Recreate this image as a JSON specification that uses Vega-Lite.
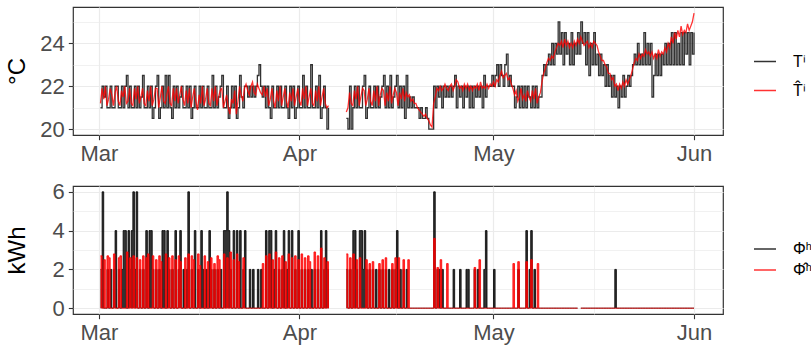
{
"$schema":"https://vega.github.io/schema/vega-lite/v6.json",
"padding":{"left":4,"top":6,"right":0,"bottom":0},
"data":{"format":{"parse":{"d":"utc:'%m%d%H'"}},"values":[
{"d":"030106","o":21,"p":21.2,"h":2,"q":2.7},{"d":"030112","o":22,"p":21.9,"h":6,"q":0},{"d":"030118","o":21.5,"p":21.4,"h":0,"q":2.5},
{"d":"030200","o":22,"p":22,"h":0,"q":0},{"d":"030206","o":21,"p":21.1,"h":2,"q":2.7},{"d":"030212","o":21,"p":21.4,"h":0,"q":2.6},{"d":"030218","o":22,"p":21.9,"h":2,"q":0},
{"d":"030300","o":21,"p":21.6,"h":0,"q":0},{"d":"030306","o":21,"p":21.1,"h":2,"q":2.8},{"d":"030312","o":22,"p":21.7,"h":4,"q":0},{"d":"030318","o":22,"p":22,"h":0,"q":0},
{"d":"030400","o":21,"p":21.3,"h":2,"q":2.6},{"d":"030406","o":21,"p":21.1,"h":0,"q":2.7},{"d":"030412","o":22,"p":21.8,"h":2,"q":0},{"d":"030418","o":21,"p":21.5,"h":4,"q":0},
{"d":"030500","o":22,"p":22,"h":4,"q":0},{"d":"030506","o":22.5,"p":21.2,"h":0,"q":2.9},{"d":"030512","o":21,"p":21.3,"h":4,"q":0},{"d":"030518","o":22,"p":21.9,"h":2,"q":2.6},
{"d":"030600","o":21,"p":21.2,"h":4,"q":0},{"d":"030606","o":21,"p":21.1,"h":6,"q":2.7},{"d":"030612","o":22,"p":21.9,"h":2,"q":0},{"d":"030618","o":21,"p":21.4,"h":6,"q":2.6},
{"d":"030700","o":22,"p":22,"h":0,"q":0},{"d":"030706","o":21,"p":21.2,"h":2,"q":2.5},{"d":"030712","o":21.5,"p":21.5,"h":0,"q":0},{"d":"030718","o":22.5,"p":21.9,"h":2,"q":2.7},
{"d":"030800","o":21,"p":21.2,"h":0,"q":0},{"d":"030806","o":21,"p":21.1,"h":4,"q":2.6},{"d":"030812","o":22,"p":21.8,"h":0,"q":2.8},{"d":"030818","o":21,"p":21.3,"h":4,"q":0},
{"d":"030900","o":22,"p":22,"h":4,"q":0},{"d":"030906","o":20.5,"p":21.1,"h":2,"q":2.7},{"d":"030912","o":21,"p":21.4,"h":0,"q":0},{"d":"030918","o":22,"p":21.9,"h":2,"q":2.5},
{"d":"031000","o":22.5,"p":21.9,"h":0,"q":0},{"d":"031006","o":20.5,"p":21,"h":2,"q":2.7},{"d":"031012","o":21,"p":21.5,"h":0,"q":2.4},{"d":"031018","o":22,"p":22,"h":4,"q":0},
{"d":"031100","o":21,"p":21.3,"h":4,"q":0},{"d":"031106","o":22.5,"p":21.2,"h":0,"q":2.8},{"d":"031112","o":21,"p":21.6,"h":4,"q":0},{"d":"031118","o":22.5,"p":22,"h":2,"q":2.6},
{"d":"031200","o":21,"p":21.2,"h":0,"q":0},{"d":"031206","o":20.5,"p":21.1,"h":2,"q":2.7},{"d":"031212","o":22,"p":21.9,"h":0,"q":0},{"d":"031218","o":21,"p":21.3,"h":4,"q":2.5},
{"d":"031300","o":22,"p":21.9,"h":0,"q":0},{"d":"031306","o":21,"p":21.2,"h":2,"q":2.7},{"d":"031312","o":21.5,"p":21.6,"h":4,"q":2.4},{"d":"031318","o":22,"p":22,"h":0,"q":0},
{"d":"031400","o":21,"p":21.4,"h":2,"q":0},{"d":"031406","o":21,"p":21.1,"h":0,"q":2.6},{"d":"031412","o":22,"p":21.8,"h":2,"q":0},{"d":"031418","o":21,"p":21.2,"h":6,"q":2.8},
{"d":"031500","o":22,"p":21.9,"h":0,"q":0},{"d":"031506","o":20.5,"p":21,"h":2,"q":2.7},{"d":"031512","o":21,"p":21.5,"h":0,"q":2.5},{"d":"031518","o":22,"p":21.9,"h":4,"q":0},
{"d":"031600","o":21,"p":21.3,"h":0,"q":0},{"d":"031606","o":21,"p":20.9,"h":2,"q":2.8},{"d":"031612","o":22,"p":21.6,"h":0,"q":2.2},{"d":"031618","o":21,"p":21.2,"h":4,"q":0},
{"d":"031700","o":22,"p":22,"h":2,"q":0},{"d":"031706","o":21,"p":21.1,"h":0,"q":2.7},{"d":"031712","o":21,"p":21.4,"h":2,"q":0},{"d":"031718","o":22,"p":21.9,"h":0,"q":2.4},
{"d":"031800","o":21,"p":21.2,"h":4,"q":0},{"d":"031806","o":21,"p":21.1,"h":2,"q":2.6},{"d":"031812","o":22.5,"p":21.9,"h":0,"q":0},{"d":"031818","o":21,"p":21.3,"h":2,"q":2.3},
{"d":"031900","o":22,"p":22,"h":0,"q":0},{"d":"031906","o":21,"p":21.1,"h":2,"q":2.7},{"d":"031912","o":21.5,"p":21.5,"h":0,"q":2.5},{"d":"031918","o":22,"p":21.8,"h":2,"q":0},
{"d":"032000","o":22.5,"p":21.9,"h":0,"q":0},{"d":"032006","o":21,"p":21,"h":4,"q":2.8},{"d":"032012","o":21,"p":21.3,"h":4,"q":0},{"d":"032018","o":22,"p":21.6,"h":6,"q":2.6},
{"d":"032100","o":20.5,"p":21,"h":4,"q":0},{"d":"032106","o":21,"p":20.7,"h":2,"q":2.9},{"d":"032112","o":22,"p":21.4,"h":0,"q":0},{"d":"032118","o":21,"p":21.2,"h":4,"q":2.5},
{"d":"032200","o":22,"p":21.8,"h":0,"q":0},{"d":"032206","o":20.5,"p":20.7,"h":4,"q":2.8},{"d":"032212","o":21,"p":21.3,"h":0,"q":2.4},{"d":"032218","o":22.5,"p":22,"h":4,"q":0},
{"d":"032300","o":21.5,"p":21.6,"h":0,"q":0},{"d":"032306","o":21,"p":21.3,"h":2,"q":2.6},{"d":"032312","o":22,"p":21.9,"h":4,"q":0},{"d":"032318","o":22,"p":22.1,"h":0,"q":0},
{"d":"032400","o":21.5,"p":21.8,"h":0,"q":0},{"d":"032406","o":22,"p":21.6,"h":2,"q":0},{"d":"032412","o":21.5,"p":22,"h":0,"q":0},{"d":"032418","o":22,"p":22.2,"h":2,"q":0},
{"d":"032500","o":21.5,"p":21.7,"h":0,"q":0},{"d":"032506","o":22,"p":21.6,"h":0,"q":0},{"d":"032512","o":22.5,"p":22.1,"h":2,"q":0},{"d":"032518","o":23,"p":21.9,"h":0,"q":0},
{"d":"032600","o":22,"p":21.7,"h":2,"q":0},{"d":"032606","o":21.5,"p":21.6,"h":0,"q":2.3},{"d":"032612","o":22,"p":22,"h":0,"q":0},{"d":"032618","o":21,"p":21.5,"h":4,"q":2.7},
{"d":"032700","o":22,"p":21.9,"h":0,"q":0},{"d":"032706","o":21,"p":21.1,"h":4,"q":2.8},{"d":"032712","o":20.5,"p":21.4,"h":4,"q":0},{"d":"032718","o":22,"p":21.9,"h":0,"q":2.5},
{"d":"032800","o":21,"p":21.3,"h":2,"q":0},{"d":"032806","o":21,"p":21,"h":4,"q":2.9},{"d":"032812","o":22,"p":21.8,"h":0,"q":0},{"d":"032818","o":21,"p":21.3,"h":2,"q":2.6},
{"d":"032900","o":22,"p":22,"h":0,"q":0},{"d":"032906","o":21,"p":21.1,"h":2,"q":2.7},{"d":"032912","o":21,"p":21.5,"h":4,"q":0},{"d":"032918","o":22,"p":21.9,"h":0,"q":2.4},
{"d":"033000","o":21,"p":21.3,"h":2,"q":0},{"d":"033006","o":20.5,"p":21,"h":4,"q":2.8},{"d":"033012","o":22,"p":21.7,"h":0,"q":0},{"d":"033018","o":21,"p":21.3,"h":4,"q":2.6},
{"d":"033100","o":22,"p":21.9,"h":0,"q":0},{"d":"033106","o":20.5,"p":21.1,"h":2,"q":2.7},{"d":"033112","o":21,"p":21.5,"h":0,"q":0},{"d":"033118","o":22,"p":21.9,"h":4,"q":2.5},
{"d":"040100","o":21,"p":21.3,"h":0,"q":0},{"d":"040106","o":21,"p":21.1,"h":2,"q":2.8},{"d":"040112","o":22.5,"p":21.9,"h":0,"q":0},{"d":"040118","o":21,"p":21.4,"h":2,"q":2.6},
{"d":"040200","o":22,"p":22,"h":0,"q":0},{"d":"040206","o":21,"p":21.1,"h":2,"q":2.7},{"d":"040212","o":21,"p":21.5,"h":0,"q":2.4},{"d":"040218","o":23,"p":21.9,"h":2,"q":0},
{"d":"040300","o":21,"p":21.2,"h":0,"q":0},{"d":"040306","o":21,"p":21.1,"h":2,"q":2.9},{"d":"040312","o":22,"p":21.8,"h":0,"q":0},{"d":"040318","o":21,"p":21.3,"h":2,"q":2.7},
{"d":"040400","o":22.5,"p":22,"h":0,"q":0},{"d":"040406","o":20.5,"p":21.1,"h":4,"q":3.1},{"d":"040412","o":21,"p":21.5,"h":0,"q":0},{"d":"040418","o":22,"p":21.9,"h":2,"q":2.6},
{"d":"040500","o":21,"p":21.2,"h":4,"q":0},{"d":"040506","o":20,"p":21,"h":2,"q":2.4},{"d":"040512","o":21,"p":21.1,"h":0,"q":0},
{"d":"040600","o":null,"p":null,"h":null,"q":null},
{"d":"040806","o":20.5,"p":20.8,"h":2,"q":2.8},{"d":"040812","o":20,"p":21,"h":0,"q":0},{"d":"040818","o":22,"p":21.7,"h":2,"q":2.6},
{"d":"040900","o":20,"p":21.2,"h":0,"q":0},{"d":"040906","o":21,"p":21.1,"h":4,"q":2.8},{"d":"040912","o":22,"p":21.8,"h":4,"q":0},{"d":"040918","o":21,"p":21.4,"h":2,"q":2.5},
{"d":"041000","o":22,"p":22,"h":0,"q":0},{"d":"041006","o":21,"p":21.1,"h":4,"q":2.6},{"d":"041012","o":21,"p":21.5,"h":4,"q":0},{"d":"041018","o":22,"p":21.9,"h":2,"q":0},
{"d":"041100","o":22.5,"p":21.8,"h":4,"q":0},{"d":"041106","o":20.5,"p":21.1,"h":2,"q":2.5},{"d":"041112","o":21,"p":21.4,"h":0,"q":0},{"d":"041118","o":22,"p":21.9,"h":2,"q":2.3},
{"d":"041200","o":21,"p":21.3,"h":0,"q":0},{"d":"041206","o":21,"p":21.1,"h":2,"q":2.4},{"d":"041212","o":22,"p":21.8,"h":0,"q":0},{"d":"041218","o":21,"p":21.3,"h":2,"q":0},
{"d":"041300","o":22,"p":22,"h":0,"q":0},{"d":"041306","o":21,"p":21.1,"h":2,"q":2.3},{"d":"041312","o":21.5,"p":21.6,"h":0,"q":0},{"d":"041318","o":22,"p":21.9,"h":2,"q":2.5},
{"d":"041400","o":22.5,"p":21.8,"h":0,"q":0},{"d":"041406","o":21,"p":21.1,"h":2,"q":2.6},{"d":"041412","o":22,"p":21.7,"h":0,"q":0},{"d":"041418","o":21,"p":21.3,"h":2,"q":0},
{"d":"041500","o":22.5,"p":22,"h":0,"q":0},{"d":"041506","o":21,"p":21.2,"h":2,"q":2.3},{"d":"041512","o":21.5,"p":21.6,"h":0,"q":0},{"d":"041518","o":22,"p":21.9,"h":2,"q":2.6},
{"d":"041600","o":22.5,"p":21.7,"h":4,"q":0},{"d":"041606","o":21,"p":21.1,"h":0,"q":2.6},{"d":"041612","o":22,"p":21.7,"h":2,"q":0},{"d":"041618","o":21,"p":21.4,"h":0,"q":0},
{"d":"041700","o":22,"p":21.9,"h":2,"q":2.5},{"d":"041706","o":20.5,"p":21.3,"h":0,"q":0},{"d":"041712","o":22.5,"p":21.7,"h":2,"q":0},{"d":"041718","o":21,"p":21.5,"h":0,"q":2.5},
{"d":"041800","o":21.5,"p":21.6,"h":0,"q":0},{"d":"041806","o":21,"p":21.3,"h":0,"q":0},{"d":"041812","o":21.5,"p":21.4,"h":0,"q":0},{"d":"041818","o":21,"p":21.2,"h":0,"q":0},
{"d":"041900","o":21,"p":21.2,"h":0,"q":0},{"d":"041906","o":21,"p":21,"h":0,"q":0},{"d":"041912","o":20.5,"p":20.9,"h":0,"q":0},{"d":"041918","o":21,"p":20.8,"h":0,"q":0},
{"d":"042000","o":20.5,"p":20.7,"h":0,"q":0},{"d":"042006","o":20.5,"p":20.6,"h":0,"q":0},{"d":"042012","o":21,"p":20.7,"h":0,"q":0},{"d":"042018","o":20.5,"p":20.5,"h":0,"q":0},
{"d":"042100","o":20,"p":20.4,"h":0,"q":0},{"d":"042106","o":20,"p":20.2,"h":0,"q":0},{"d":"042112","o":20,"p":20.1,"h":0,"q":0},{"d":"042118","o":22,"p":21.2,"h":6,"q":3.6},
{"d":"042200","o":21,"p":21.5,"h":0,"q":0},{"d":"042206","o":22,"p":21.9,"h":2,"q":2.1},{"d":"042212","o":21.5,"p":21.8,"h":2,"q":0},{"d":"042218","o":22,"p":22,"h":0,"q":2.5},
{"d":"042300","o":21,"p":21.8,"h":2,"q":0},{"d":"042306","o":22,"p":21.9,"h":0,"q":0},{"d":"042312","o":21.5,"p":22.1,"h":0,"q":0},{"d":"042318","o":22,"p":21.9,"h":0,"q":2.3},
{"d":"042400","o":21.5,"p":21.8,"h":0,"q":0},{"d":"042406","o":22,"p":22,"h":0,"q":0},{"d":"042412","o":21.5,"p":22.1,"h":0,"q":0},{"d":"042418","o":22,"p":21.8,"h":2,"q":0},
{"d":"042500","o":22.5,"p":22,"h":0,"q":0},{"d":"042506","o":21,"p":22.3,"h":0,"q":0},{"d":"042512","o":22,"p":22.2,"h":0,"q":0},{"d":"042518","o":21.5,"p":21.9,"h":2,"q":0},
{"d":"042600","o":22,"p":22,"h":0,"q":0},{"d":"042606","o":21,"p":21.8,"h":0,"q":0},{"d":"042612","o":22,"p":22.1,"h":0,"q":0},{"d":"042618","o":21.5,"p":21.9,"h":2,"q":0},
{"d":"042700","o":22,"p":22.1,"h":2,"q":0},{"d":"042706","o":21,"p":21.8,"h":0,"q":0},{"d":"042712","o":22,"p":22,"h":0,"q":0},{"d":"042718","o":21,"p":21.8,"h":0,"q":0},
{"d":"042800","o":22,"p":22,"h":2,"q":2.1},{"d":"042806","o":21.5,"p":21.9,"h":0,"q":0},{"d":"042812","o":22,"p":22.1,"h":2,"q":0},{"d":"042818","o":21.5,"p":21.8,"h":0,"q":2.5},
{"d":"042900","o":22,"p":22.2,"h":0,"q":0},{"d":"042906","o":21,"p":21.9,"h":0,"q":0},{"d":"042912","o":22.5,"p":22,"h":2,"q":0},{"d":"042918","o":21.5,"p":21.9,"h":4,"q":0},
{"d":"043000","o":22,"p":22.1,"h":0,"q":0},{"d":"043006","o":22,"p":21.9,"h":0,"q":0},{"d":"043012","o":22,"p":22.1,"h":0,"q":0},{"d":"043018","o":22.5,"p":22,"h":0,"q":0},
{"d":"050100","o":22,"p":22.2,"h":2,"q":0},{"d":"050106","o":22.5,"p":22,"h":0,"q":0},{"d":"050112","o":23,"p":22.3,"h":0,"q":0},{"d":"050118","o":22,"p":22.2,"h":0,"q":0},
{"d":"050200","o":23,"p":22.5,"h":0,"q":0},{"d":"050206","o":22.5,"p":22.7,"h":0,"q":0},{"d":"050212","o":22,"p":22.4,"h":0,"q":0},{"d":"050218","o":23,"p":22.5,"h":0,"q":0},
{"d":"050300","o":23.5,"p":22.6,"h":0,"q":0},{"d":"050306","o":22,"p":22.3,"h":0,"q":0},{"d":"050312","o":22.5,"p":22.4,"h":0,"q":0},{"d":"050318","o":22,"p":22.1,"h":0,"q":0},
{"d":"050400","o":22,"p":21.9,"h":0,"q":2.3},{"d":"050406","o":21,"p":21.6,"h":0,"q":0},{"d":"050412","o":21.5,"p":21.8,"h":0,"q":0},{"d":"050418","o":22,"p":21.3,"h":2,"q":2.4},
{"d":"050500","o":21,"p":21.5,"h":0,"q":0},{"d":"050506","o":22,"p":21.9,"h":0,"q":0},{"d":"050512","o":21,"p":21.4,"h":0,"q":0},{"d":"050518","o":22,"p":21.6,"h":0,"q":0},
{"d":"050600","o":21,"p":21.3,"h":4,"q":2.4},{"d":"050606","o":22,"p":21.8,"h":0,"q":0},{"d":"050612","o":21.5,"p":21.5,"h":2,"q":0},{"d":"050618","o":21,"p":21.3,"h":4,"q":2.5},
{"d":"050700","o":22,"p":21.8,"h":0,"q":0},{"d":"050706","o":21,"p":21.4,"h":2,"q":0},{"d":"050712","o":22,"p":21.9,"h":0,"q":0},{"d":"050718","o":21,"p":21.2,"h":0,"q":2.3},
{"d":"050800","o":21.5,"p":21.5,"h":0,"q":0},{"d":"050806","o":21.5,"p":21.7,"h":0,"q":0},{"d":"050812","o":22.5,"p":22.2,"h":0,"q":0},{"d":"050818","o":23,"p":22.6,"h":0,"q":0},
{"d":"050900","o":22.5,"p":22.8,"h":0,"q":0},{"d":"050906","o":23,"p":23.1,"h":0,"q":0},{"d":"050912","o":23.5,"p":23.3,"h":0,"q":0},{"d":"050918","o":23,"p":23.2,"h":0,"q":0},
{"d":"051000","o":24,"p":23.4,"h":0,"q":0},{"d":"051006","o":23,"p":23.3,"h":0,"q":0},{"d":"051012","o":24,"p":23.6,"h":0,"q":0},{"d":"051018","o":23.5,"p":23.8,"h":0,"q":0},
{"d":"051100","o":25,"p":24,"h":0,"q":0},{"d":"051106","o":23.5,"p":23.9,"h":0,"q":0},{"d":"051112","o":24.5,"p":24.1,"h":0,"q":0},{"d":"051118","o":23,"p":23.8,"h":0,"q":0},
{"d":"051200","o":24.5,"p":24.2,"h":0,"q":0},{"d":"051206","o":23.5,"p":23.9,"h":0,"q":0},{"d":"051212","o":24,"p":24.1,"h":0,"q":0},{"d":"051218","o":23,"p":23.8,"h":0,"q":0},
{"d":"051300","o":24.5,"p":24,"h":0,"q":0},{"d":"051306","o":23,"p":23.8,"h":0,"q":0},{"d":"051312","o":24,"p":24.1,"h":0,"q":0},{"d":"051318","o":23.5,"p":23.9,"h":0,"q":0},
{"d":"051400","o":24.5,"p":24.2,"h":0,"q":0},{"d":"051406","o":23.5,"p":24,"h":null,"q":null},{"d":"051412","o":25,"p":24.3,"h":0,"q":0},{"d":"051418","o":24,"p":24.1,"h":0,"q":0},
{"d":"051500","o":24.5,"p":23.9,"h":0,"q":0},{"d":"051506","o":23,"p":24,"h":0,"q":0},{"d":"051512","o":24.5,"p":24.1,"h":0,"q":0},{"d":"051518","o":22.5,"p":23.8,"h":0,"q":0},
{"d":"051600","o":24,"p":24,"h":0,"q":0},{"d":"051606","o":23,"p":23.8,"h":0,"q":0},{"d":"051612","o":24.5,"p":24.1,"h":0,"q":0},{"d":"051618","o":23,"p":24,"h":0,"q":0},
{"d":"051700","o":23.5,"p":23.9,"h":0,"q":0},{"d":"051706","o":22.5,"p":23.6,"h":0,"q":0},{"d":"051712","o":23.5,"p":23.4,"h":0,"q":0},{"d":"051718","o":22.5,"p":23.2,"h":0,"q":0},
{"d":"051800","o":23,"p":23.2,"h":0,"q":0},{"d":"051806","o":22,"p":23,"h":0,"q":0},{"d":"051812","o":23,"p":22.9,"h":0,"q":0},{"d":"051818","o":22,"p":22.6,"h":0,"q":0},
{"d":"051900","o":22.5,"p":22.6,"h":0,"q":0},{"d":"051906","o":21.5,"p":22.3,"h":0,"q":0},{"d":"051912","o":22.5,"p":22.4,"h":0,"q":0},{"d":"051918","o":21.5,"p":22,"h":2,"q":0},
{"d":"052000","o":22,"p":22.1,"h":0,"q":0},{"d":"052006","o":21,"p":21.8,"h":0,"q":0},{"d":"052012","o":22,"p":22.1,"h":0,"q":0},{"d":"052018","o":21.5,"p":21.9,"h":0,"q":0},
{"d":"052100","o":22.5,"p":22.2,"h":0,"q":0},{"d":"052106","o":21.5,"p":22,"h":0,"q":0},{"d":"052112","o":22,"p":22.3,"h":0,"q":0},{"d":"052118","o":22.5,"p":22.1,"h":0,"q":0},
{"d":"052200","o":22,"p":22.3,"h":0,"q":0},{"d":"052206","o":22.5,"p":22.5,"h":0,"q":0},{"d":"052212","o":23,"p":22.8,"h":0,"q":0},{"d":"052218","o":23.5,"p":23.1,"h":0,"q":0},
{"d":"052300","o":23,"p":23.3,"h":0,"q":0},{"d":"052306","o":24,"p":23.2,"h":0,"q":0},{"d":"052312","o":23,"p":23.5,"h":0,"q":0},{"d":"052318","o":23.5,"p":23.3,"h":0,"q":0},
{"d":"052400","o":23,"p":23.5,"h":0,"q":0},{"d":"052406","o":24.5,"p":23.4,"h":0,"q":0},{"d":"052412","o":23,"p":23.7,"h":0,"q":0},{"d":"052418","o":24,"p":23.5,"h":0,"q":0},
{"d":"052500","o":23,"p":23.6,"h":0,"q":0},{"d":"052506","o":24,"p":23.4,"h":0,"q":0},{"d":"052512","o":21.5,"p":23.6,"h":0,"q":0},{"d":"052518","o":22.5,"p":23.3,"h":0,"q":0},
{"d":"052600","o":23.5,"p":23.5,"h":0,"q":0},{"d":"052606","o":22.5,"p":23.3,"h":0,"q":0},{"d":"052612","o":23.5,"p":23.7,"h":0,"q":0},{"d":"052618","o":22.5,"p":23.4,"h":0,"q":0},
{"d":"052700","o":23.5,"p":23.6,"h":0,"q":0},{"d":"052706","o":23,"p":23.5,"h":0,"q":0},{"d":"052712","o":24,"p":23.8,"h":0,"q":0},{"d":"052718","o":23,"p":23.6,"h":0,"q":0},
{"d":"052800","o":24,"p":24,"h":0,"q":0},{"d":"052806","o":23,"p":23.8,"h":0,"q":0},{"d":"052812","o":24.5,"p":24.3,"h":0,"q":0},{"d":"052818","o":23,"p":24,"h":0,"q":0},
{"d":"052900","o":24.5,"p":24.5,"h":0,"q":0},{"d":"052906","o":23,"p":24.2,"h":0,"q":0},{"d":"052912","o":24,"p":24.6,"h":0,"q":0},{"d":"052918","o":23,"p":24.3,"h":0,"q":0},
{"d":"053000","o":24.5,"p":24.8,"h":0,"q":0},{"d":"053006","o":23,"p":24.4,"h":0,"q":0},{"d":"053012","o":24.5,"p":24.6,"h":0,"q":0},{"d":"053018","o":23.5,"p":24.5,"h":0,"q":0},
{"d":"053100","o":24.5,"p":24.9,"h":0,"q":0},{"d":"053106","o":23,"p":24.6,"h":0,"q":0},{"d":"053112","o":24.5,"p":24.8,"h":0,"q":0},{"d":"053118","o":23.5,"p":25,"h":0,"q":0},
{"d":"060100","o":24.5,"p":25.4,"h":0,"q":0}
]},
"vconcat":[
{"width":650,"height":128,
"layer":[
{"mark":{"type":"line","interpolate":"step-after","strokeWidth":1.3,"opacity":0.8,"invalid":"break-paths-show-domains"},
"encoding":{
"x":{"field":"d","type":"temporal","scale":{"type":"utc","domain":[{"year":1900,"month":2,"date":25,"utc":true},{"year":1900,"month":6,"date":5,"hours":11,"minutes":30,"utc":true}]},
"axis":{"values":[{"year":1900,"month":3,"date":1,"utc":true},{"year":1900,"month":4,"date":1,"utc":true},{"year":1900,"month":5,"date":1,"utc":true},{"year":1900,"month":6,"date":1,"utc":true}],"format":"%b","title":null,"grid":true}},
"y":{"field":"o","type":"quantitative","scale":{"domain":[19.73,25.69],"nice":false,"zero":false},"axis":{"values":[20,22,24],"title":"°C","titlePadding":10,"grid":true}},
"color":{"datum":"Tⁱ","scale":{"domain":["Tⁱ","T̂ⁱ"],"range":["#000000","#FF0000"]},"legend":{"title":null,"orient":"none","legendX":680,"legendY":42.5,"rowPadding":9,"labelOffset":16}}}},
{"mark":{"type":"line","strokeWidth":1.3,"opacity":0.8,"invalid":"break-paths-show-domains"},
"encoding":{
"x":{"field":"d","type":"temporal","scale":{"type":"utc","domain":[{"year":1900,"month":2,"date":25,"utc":true},{"year":1900,"month":6,"date":5,"hours":11,"minutes":30,"utc":true}]},
"axis":{"values":[{"year":1900,"month":3,"date":16,"hours":12,"utc":true},{"year":1900,"month":4,"date":16,"utc":true},{"year":1900,"month":5,"date":16,"hours":12,"utc":true}],"labels":false,"ticks":false,"domain":false,"title":null,"grid":true,"gridWidth":0.7}},
"y":{"field":"p","type":"quantitative","scale":{"domain":[19.73,25.69],"nice":false,"zero":false},"axis":{"values":[21,23,25],"labels":false,"ticks":false,"domain":false,"title":null,"grid":true,"gridWidth":0.7}},
"color":{"datum":"T̂ⁱ"}}}
],
"resolve":{"axis":{"x":"independent","y":"independent"}}},
{"width":650,"height":128,
"layer":[
{"mark":{"type":"area","interpolate":"step-after","color":"#000000","opacity":0.8,"invalid":"break-paths-show-domains"},
"encoding":{
"x":{"field":"d","type":"temporal","scale":{"type":"utc","domain":[{"year":1900,"month":2,"date":25,"utc":true},{"year":1900,"month":6,"date":5,"hours":11,"minutes":30,"utc":true}]},"axis":null},
"y":{"field":"h","type":"quantitative","scale":{"domain":[-0.3,6.3],"nice":false,"zero":false},"axis":null}}},
{"mark":{"type":"line","interpolate":"step-after","strokeWidth":1,"opacity":0.8,"invalid":"break-paths-show-domains"},
"encoding":{
"x":{"field":"d","type":"temporal","scale":{"type":"utc","domain":[{"year":1900,"month":2,"date":25,"utc":true},{"year":1900,"month":6,"date":5,"hours":11,"minutes":30,"utc":true}]},
"axis":{"values":[{"year":1900,"month":3,"date":1,"utc":true},{"year":1900,"month":4,"date":1,"utc":true},{"year":1900,"month":5,"date":1,"utc":true},{"year":1900,"month":6,"date":1,"utc":true}],"format":"%b","title":null,"grid":true}},
"y":{"field":"h","type":"quantitative","scale":{"domain":[-0.3,6.3],"nice":false,"zero":false},"axis":{"values":[0,2,4,6],"title":"kWh","titlePadding":23,"grid":true}},
"color":{"datum":"Φʰ","scale":{"domain":["Φʰ","Φ̂ʰ"],"range":["#000000","#FF0000"]},"legend":{"title":null,"orient":"none","legendX":680,"legendY":51,"rowPadding":1,"labelOffset":16}}}},
{"mark":{"type":"area","interpolate":"step-after","color":"#FF0000","opacity":0.8,"invalid":"break-paths-show-domains"},
"encoding":{
"x":{"field":"d","type":"temporal","scale":{"type":"utc","domain":[{"year":1900,"month":2,"date":25,"utc":true},{"year":1900,"month":6,"date":5,"hours":11,"minutes":30,"utc":true}]},"axis":null},
"y":{"field":"q","type":"quantitative","scale":{"domain":[-0.3,6.3],"nice":false,"zero":false},"axis":null}}},
{"mark":{"type":"line","interpolate":"step-after","strokeWidth":1,"opacity":0.8,"invalid":"break-paths-show-domains"},
"encoding":{
"x":{"field":"d","type":"temporal","scale":{"type":"utc","domain":[{"year":1900,"month":2,"date":25,"utc":true},{"year":1900,"month":6,"date":5,"hours":11,"minutes":30,"utc":true}]},
"axis":{"values":[{"year":1900,"month":3,"date":16,"hours":12,"utc":true},{"year":1900,"month":4,"date":16,"utc":true},{"year":1900,"month":5,"date":16,"hours":12,"utc":true}],"labels":false,"ticks":false,"domain":false,"title":null,"grid":true,"gridWidth":0.7}},
"y":{"field":"q","type":"quantitative","scale":{"domain":[-0.3,6.3],"nice":false,"zero":false},"axis":{"values":[1,3,5],"labels":false,"ticks":false,"domain":false,"title":null,"grid":true,"gridWidth":0.7}},
"color":{"datum":"Φ̂ʰ"}}}
],
"resolve":{"axis":{"x":"independent","y":"independent"}}}
],
"spacing":14,
"resolve":{"scale":{"color":"independent"}},
"config":{
"font":"Liberation Sans",
"view":{"stroke":"#333333","strokeWidth":1.2},
"axis":{"domain":false,"gridColor":"#EBEBEB","gridWidth":1.2,"tickColor":"#333333","tickSize":4.7,"tickWidth":1.1,"labelColor":"#4D4D4D","labelFontSize":22,"labelFont":"Liberation Sans","titleFont":"Liberation Sans","titleFontSize":24,"titleColor":"#000000","titleFontWeight":"normal","labelFlush":false,"labelOverlap":false},
"axisX":{"labelPadding":4},
"axisY":{"labelPadding":4},
"legend":{"labelFont":"Liberation Sans","labelFontSize":16,"labelColor":"#000000","symbolType":"stroke","symbolSize":484,"symbolStrokeWidth":1.5,"symbolOpacity":0.8}
}
}
